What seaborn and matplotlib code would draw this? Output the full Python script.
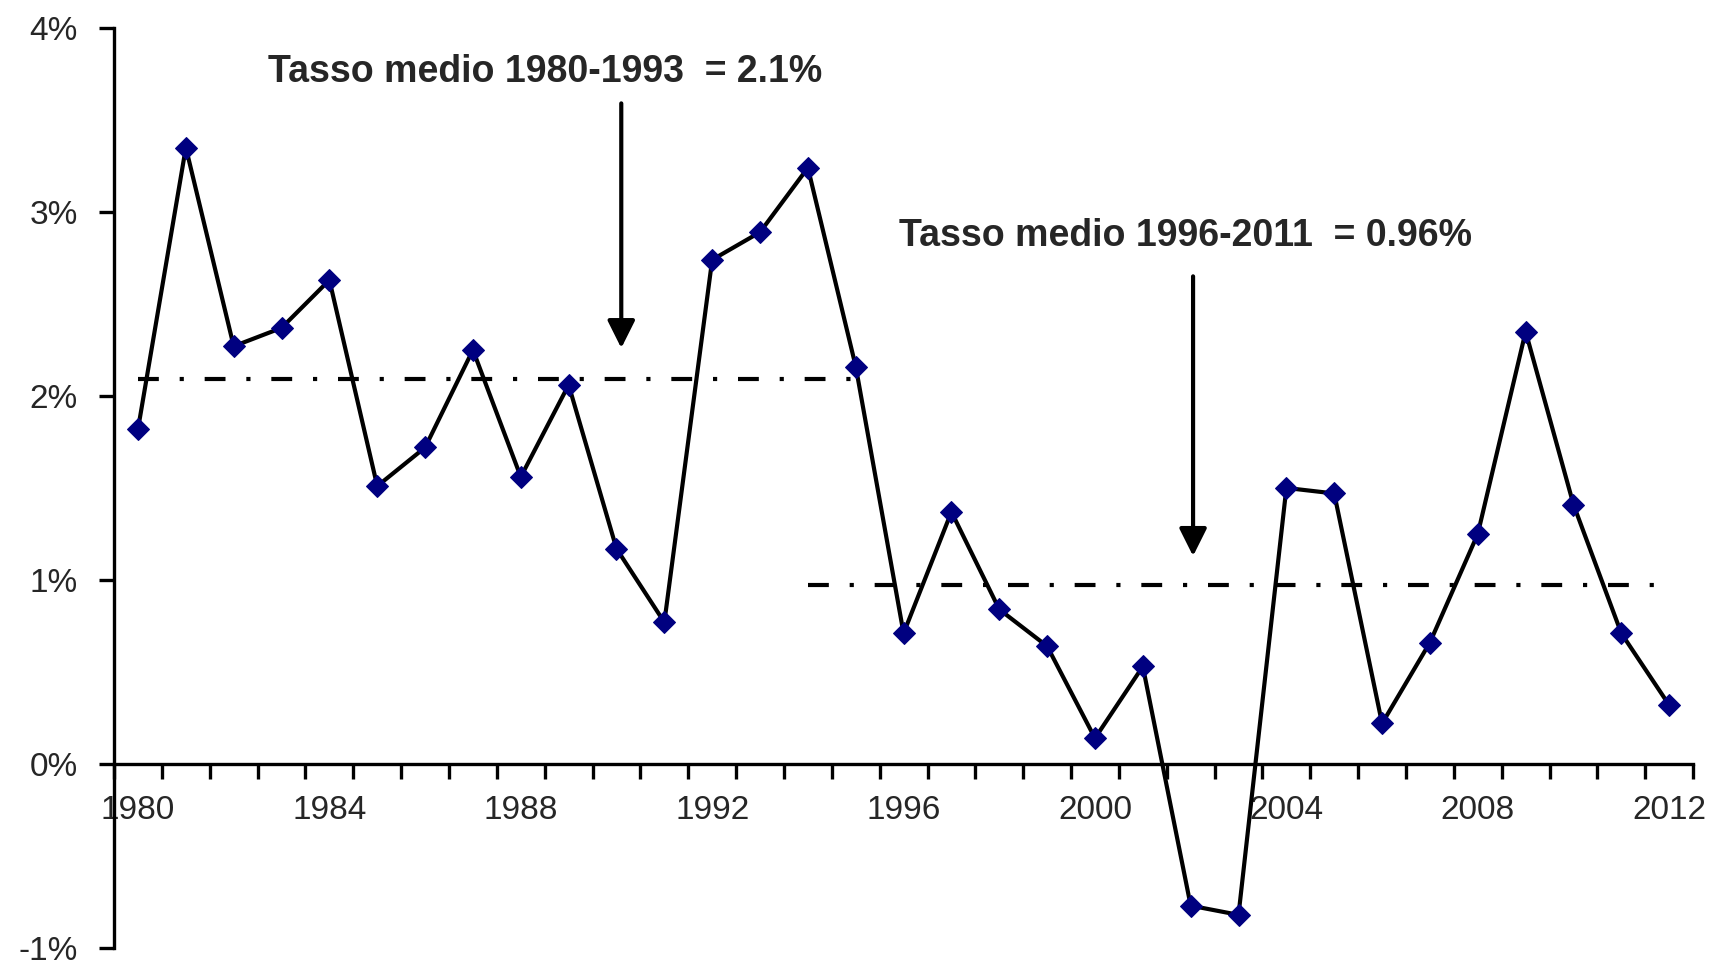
import numpy as np
import pandas as pd
import matplotlib
matplotlib.use('Agg')
import matplotlib.pyplot as plt
import seaborn as sns
from matplotlib.ticker import FixedLocator, FuncFormatter

# Data
years = list(range(1980, 2013))
rates = [1.82, 3.35, 2.27, 2.37, 2.63, 1.51, 1.72, 2.25, 1.56, 2.06, 1.17,
         0.77, 2.74, 2.89, 3.24, 2.16, 0.71, 1.37, 0.84, 0.64, 0.14, 0.53,
         -0.77, -0.82, 1.50, 1.47, 0.22, 0.66, 1.25, 2.35, 1.41, 0.71, 0.32]
avg_labels = ['Tasso medio 1980-1993  = 2.1%', 'Tasso medio 1996-2011  = 0.96%']
avg_values = [2.09, 0.97]
year_labels = [str(y) for y in range(1980, 2013, 4)]
ytick_values = [-1, 0, 1, 2, 3, 4]

df = pd.DataFrame({'idx': np.arange(len(years)), 'year': years, 'rate': rates})

sns.set_style('white')
plt.rcParams['font.family'] = ['Liberation Sans', 'DejaVu Sans']

fig = plt.figure(figsize=(17.18, 9.63), dpi=100)
ax = fig.add_axes([0.0664, 0.0156, 0.9191, 0.9554])

sns.lineplot(data=df, x='idx', y='rate', ax=ax, color='black', linewidth=3,
             marker='D', markersize=11, markerfacecolor='#000080',
             markeredgecolor='#000080', zorder=3)

# average lines (dash-dot)
dashdot = (0, (5, 5, 1, 5))
ax.hlines(avg_values[0], 0, 15.1, colors='black', linewidth=3,
          linestyles=dashdot, zorder=2)
ax.hlines(avg_values[1], 14.0, 32.0, colors='black', linewidth=3,
          linestyles=dashdot, zorder=2)

# annotations
narrow = ['Liberation Sans Narrow', 'Liberation Sans', 'DejaVu Sans']
ax.text(8.5, 3.76, avg_labels[0], ha='center', va='center', fontsize=27,
        fontweight='bold', family=narrow)
ax.text(21.9, 2.87, avg_labels[1], ha='center', va='center', fontsize=27,
        fontweight='bold', family=narrow)
arrow_kw = dict(arrowstyle='-|>', lw=3, color='black', mutation_scale=42,
                shrinkA=0, shrinkB=0)
ax.annotate('', xy=(10.1, 2.26), xytext=(10.1, 3.59), arrowprops=arrow_kw)
ax.annotate('', xy=(22.05, 1.13), xytext=(22.05, 2.65), arrowprops=arrow_kw)

# axes styling
ax.set_xlim(-0.5, len(years) - 0.5)
ax.set_ylim(-1, 4)
for s in ['top', 'right']:
    ax.spines[s].set_visible(False)
ax.spines['bottom'].set_position(('data', 0))
for s in ['left', 'bottom']:
    ax.spines[s].set_linewidth(2.4)
    ax.spines[s].set_color('black')

ax.xaxis.set_major_locator(FixedLocator(np.arange(-0.5, len(years), 1.0)))
ax.xaxis.set_major_formatter(FuncFormatter(lambda v, p: ''))
ax.xaxis.set_minor_locator(FixedLocator(np.arange(0, len(years), 4)))
ax.set_xticklabels(year_labels, minor=True)
ax.tick_params(axis='x', which='major', direction='out', length=11, width=2.4,
               color='black', bottom=True)
ax.tick_params(axis='x', which='minor', length=0, pad=22, labelsize=24)

ax.set_yticks(ytick_values)
ax.yaxis.set_major_formatter(FuncFormatter(lambda v, p: f'{int(v)}%'))
ax.tick_params(axis='y', direction='out', length=11, width=2.4, color='black',
               left=True, pad=15, labelsize=24)

ax.set_xlabel('')
ax.set_ylabel('')

fig.savefig('out.png', dpi=100)
